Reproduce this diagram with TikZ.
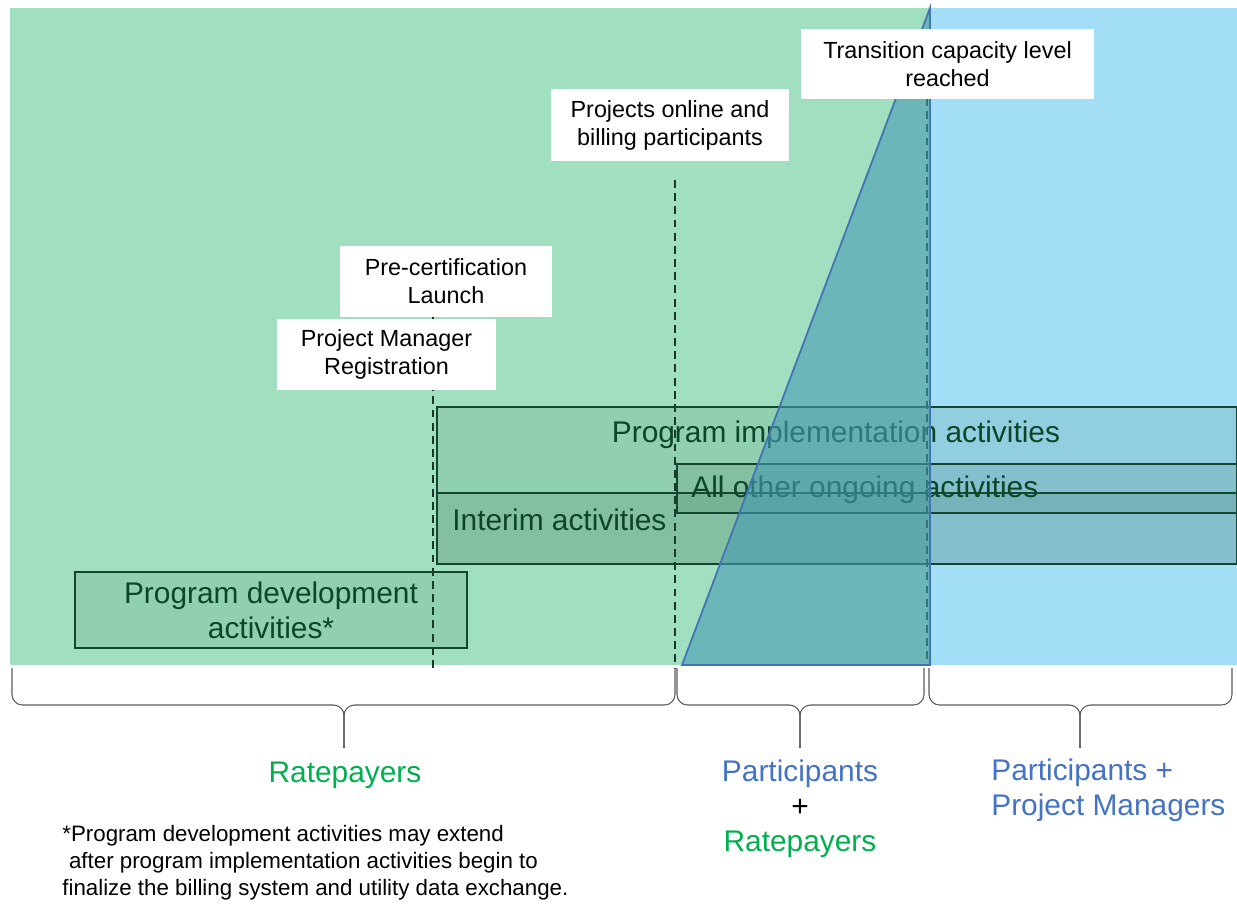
\documentclass[tikz,border=0pt]{standalone}
\usepackage{fontspec}
\setmainfont{Liberation Sans}
\usetikzlibrary{positioning}
\definecolor{bggreen}{RGB}{160,224,192}
\definecolor{bgblue}{RGB}{162,223,247}
\definecolor{tealfill}{RGB}{70,155,180}
\definecolor{tealline}{RGB}{68,114,180}
\definecolor{boxfill}{RGB}{30,90,60}
\definecolor{boxline}{RGB}{18,70,48}
\definecolor{boxtext}{RGB}{12,70,42}
\definecolor{rategreen}{RGB}{0,176,80}
\definecolor{partblue}{RGB}{68,114,196}
\definecolor{bracegray}{RGB}{90,90,90}
\definecolor{dashcolor}{RGB}{25,55,40}

\begin{document}
\begin{tikzpicture}[
    x=0.02cm, y=-0.02cm,
    actbox/.style={draw=boxline, line width=1pt, fill=boxfill, fill opacity=0.12, text opacity=1, rectangle, anchor=north west, inner sep=0pt},
    acttext/.style={text=boxtext, font=\fontsize{17}{20}\selectfont, inner sep=0pt},
    milestone/.style={fill=white, align=center, inner sep=0pt, font=\fontsize{13.3}{15.9}\selectfont},
    milestoneline/.style={draw=dashcolor, line width=0.75pt, dash pattern=on 4.5pt off 3pt},
    grouping/.style={draw=bracegray, line width=0.6pt, rounded corners=6pt},
    grouplabel/.style={font=\fontsize{17}{19.8}\selectfont, inner sep=0pt},
    footnote/.style={font=\fontsize{12.7}{15.3}\selectfont, align=left, inner sep=0pt}
]
\useasboundingbox (0,0) rectangle (1237,903);

% Background zones
\fill[bggreen] (10,8) rectangle (930,665);
\fill[bgblue] (930,8) rectangle (1237,665);

% Milestone markers
\coordinate (regbottom) at (433,668);
\coordinate (onlinetop) at (675,180);
\coordinate (onlinebottom) at (675,668);
\coordinate (transbottom) at (927,665);

\node[milestone, minimum width=4.24cm, minimum height=1.42cm] (precert) at (446,281.5) {Pre-certification\\Launch};
\node[milestone, minimum width=4.76cm, minimum height=1.44cm] (online) at (670,125) {Projects online and\\billing participants};

\draw[milestoneline] (precert.south -| regbottom) -- (regbottom);
\draw[milestoneline] (onlinetop) -- (onlinebottom);
\draw[milestoneline] (927,98) -- (transbottom);

% Activity boxes
\node[actbox, minimum width=16cm, minimum height=3.14cm] (impl) at (436,406) {};
\node[actbox, minimum width=16cm, minimum height=1.42cm] (interim) at (436,492) {};
\node[actbox, minimum width=11.2cm, minimum height=0.98cm] (other) at (676,463) {};
\node[actbox, anchor=center, minimum width=7.84cm, minimum height=1.52cm, align=center, text=boxtext, font=\fontsize{17}{20}\selectfont] (devbox) at (271,610) {Program development\\activities*};

\node[acttext] (impltext) at (836,435) {Program implementation activities};
\node[acttext, anchor=west] (othertext) at (691,490) {All other ongoing activities};
\node[acttext, anchor=west] (interimtext) at (452,520) {Interim activities};

% Transition zone
\draw[draw=tealline, line width=1pt, fill=tealfill, fill opacity=0.6] (682,665) -- (930,8) -- (930,665) -- cycle;

% Milestone labels
\node[milestone, minimum width=5.86cm, minimum height=1.4cm] (transition) at (947.5,64) {Transition capacity level\\reached};
\node[milestone, minimum width=4.38cm, minimum height=1.42cm] (registration) at (386.5,354.5) {Project Manager\\Registration};

% Braces
\foreach \a/\m/\b in {12/344/675, 677/800/924, 929/1080/1232} {
  \draw[grouping] (\a,668) -- (\a,705) -- (\m,705) -- (\m,748);
  \draw[grouping] (\b,668) -- (\b,705) -- (\m,705) -- (\m,748);
}

% Who pays
\node[grouplabel, text=rategreen] (ratepayers) at (345,775) {Ratepayers};
\node[grouplabel, align=center] (shared) at (800,809) {\textcolor{partblue}{Participants}\\+\\\textcolor{rategreen}{Ratepayers}};
\node[grouplabel, align=left, text=partblue, anchor=west] (managers) at (991,790.5) {Participants +\\Project Managers};

% Footnote
\node[footnote, anchor=west] (note) at (62,863) {*Program development activities may extend\\\hspace{0.3em}after program implementation activities begin to\\finalize the billing system and utility data exchange.};

\end{tikzpicture}
\end{document}
